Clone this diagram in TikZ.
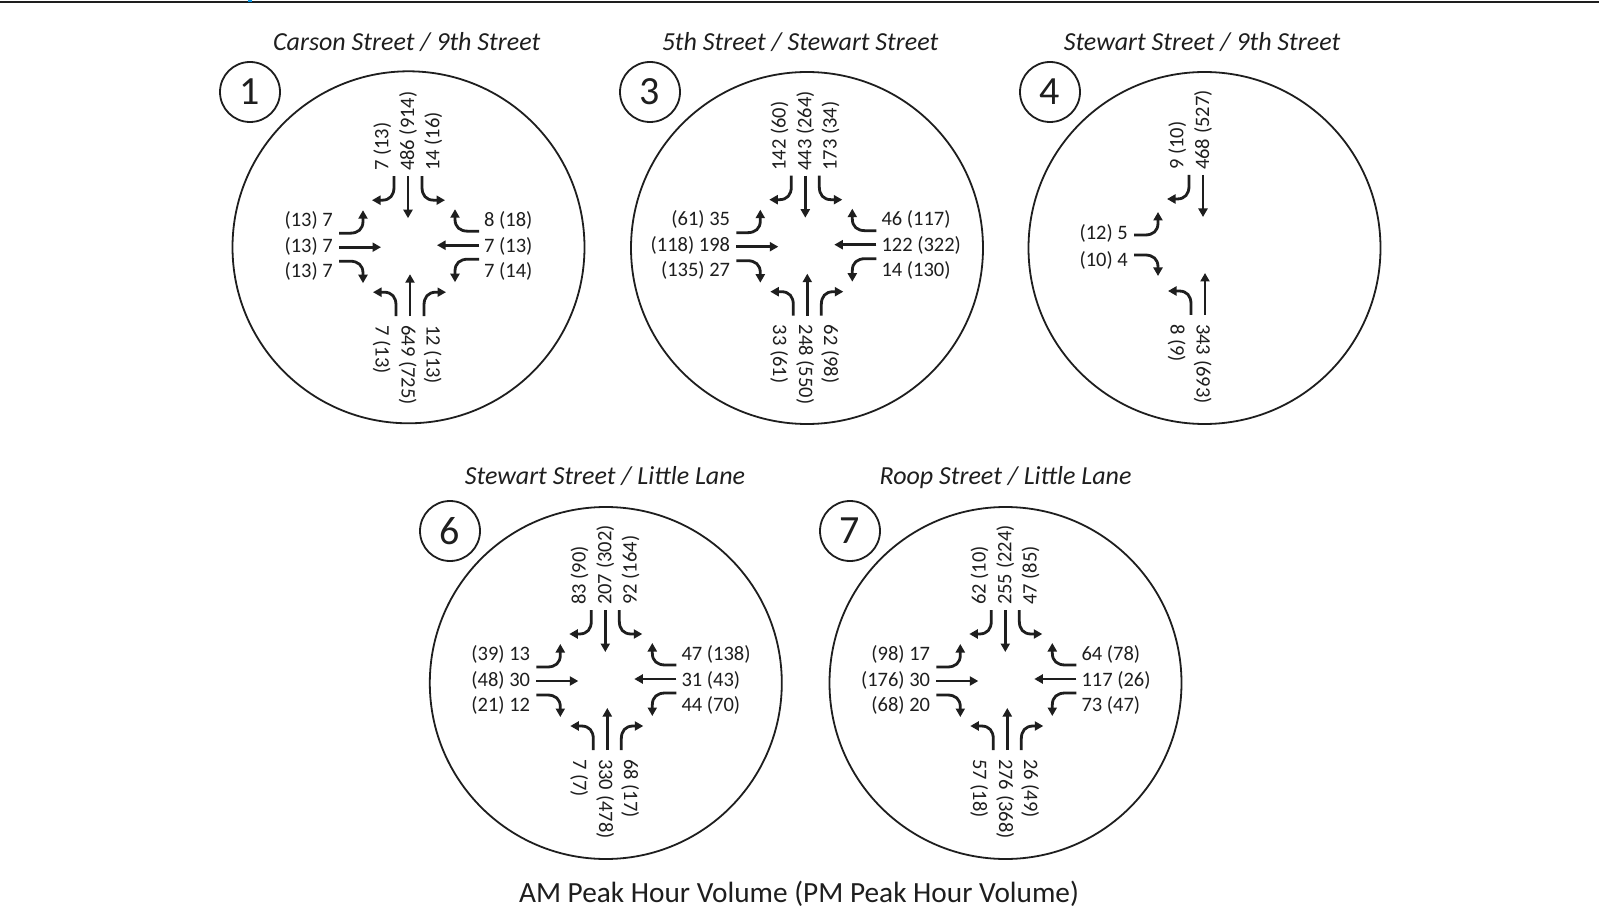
\documentclass[tikz,border=0pt]{standalone}
\usepackage{fontspec}
\setmainfont{Carlito}
\usetikzlibrary{arrows.meta}
\definecolor{ink}{RGB}{30,30,30}
\tikzset{
  arr/.style={line width=2.8pt, draw=ink, -{Triangle[length=8.5pt,width=9pt]}},
  lab/.style={font=\fontsize{20.5}{24}\selectfont, inner sep=0pt, text=ink},
  bigc/.style={circle, draw=ink, line width=1.8pt, minimum size=352pt, inner sep=0pt},
  numc/.style={circle, draw=ink, line width=1.8pt, minimum size=60pt, inner sep=0pt, font=\fontsize{40}{44}\selectfont, text=ink},
  ttl/.style={font=\fontsize{26}{30}\selectfont\itshape, inner sep=0pt, anchor=base, text=ink},
  thru/.pic={\draw[arr] (-1,-70) -- (-1,-28);},
  rturn/.pic={\draw[arr] (-15,-70) -- (-15,-59) .. controls (-15,-51) and (-19,-46) .. (-27,-46) -- (-37,-46);},
  lturn/.pic={\draw[arr] (13,-70) -- (13,-59) .. controls (13,-51) and (17,-46) .. (25,-46) -- (36,-46);},
  rturnT/.pic={\draw[arr] (-10,-70) -- (-10,-59) .. controls (-10,-51) and (-14,-46) .. (-22,-46) -- (-31,-46);},
  lturnT/.pic={\draw[arr] (10,-70) -- (10,-59) .. controls (10,-51) and (14,-46) .. (22,-46) -- (33,-46);}
}
% labels: #1 centre name, #2 #3 #4 texts (left to right / top to bottom)
\newcommand\labN[4]{\begin{scope}[shift={(#1)}]
  \node[lab,rotate=90,anchor=base west] (#1-na) at (-20.7,-75) {#2};
  \node[lab,rotate=90,anchor=base west] (#1-nb) at (5,-75) {#3};
  \node[lab,rotate=90,anchor=base west] (#1-nc) at (30.3,-75) {#4};
\end{scope}}
\newcommand\labS[4]{\begin{scope}[shift={(#1)}]
  \node[lab,rotate=-90,anchor=base west] (#1-sa) at (-33.3,79) {#2};
  \node[lab,rotate=-90,anchor=base west] (#1-sb) at (-7.3,79) {#3};
  \node[lab,rotate=-90,anchor=base west] (#1-sc) at (17.7,79) {#4};
\end{scope}}
\newcommand\labW[4]{\begin{scope}[shift={(#1)}]
  \node[lab,anchor=base east] (#1-wa) at (-76,-19.7) {#2};
  \node[lab,anchor=base east] (#1-wb) at (-76,6.3) {#3};
  \node[lab,anchor=base east] (#1-wc) at (-76,31.3) {#4};
\end{scope}}
\newcommand\labE[4]{\begin{scope}[shift={(#1)}]
  \node[lab,anchor=base west] (#1-ea) at (75,-19.7) {#2};
  \node[lab,anchor=base west] (#1-eb) at (75,6.3) {#3};
  \node[lab,anchor=base west] (#1-ec) at (75,31.3) {#4};
\end{scope}}
\newcommand\allarrows[1]{\foreach \r in {0,90,180,270}{%
  \pic[rotate=\r] at (#1) {thru};
  \pic[rotate=\r] at (#1) {rturn};
  \pic[rotate=\r] at (#1) {lturn};}}
\begin{document}
\begin{tikzpicture}[x=1pt,y=-1pt]
\useasboundingbox (0,0) rectangle (1599,909);
\fill[white] (0,0) rectangle (1599,909);
% top rule
\draw[line width=1.8pt, ink] (0,2.4) -- (1599,2.4);
\fill[cyan!80!blue] (248.3,0) rectangle (251.7,2);

% big circles
\node[bigc] (b1) at (408.5,247.3) {};
\node[bigc] (b3) at (807,248) {};
\node[bigc] (b4) at (1204.5,248) {};
\node[bigc] (b6) at (605.8,683) {};
\node[bigc] (b7) at (1005.5,683) {};
% numbers
\node[numc] (n1) at (250,92) {1};
\node[numc] (n3) at (650,92) {3};
\node[numc] (n4) at (1050,92) {4};
\node[numc] (n6) at (450,531) {6};
\node[numc] (n7) at (850,531) {7};
% titles
\node[ttl] (t1) at (406.7,51) {Carson Street / 9th Street};
\node[ttl] (t3) at (800,51) {5th Street / Stewart Street};
\node[ttl] (t4) at (1202,51) {Stewart Street / 9th Street};
\node[ttl] (t6) at (605,484) {Stewart Street / Little Lane};
\node[ttl] (t7) at (1005.6,484) {Roop Street / Little Lane};
% caption
\node[font=\fontsize{29.3}{34}\selectfont, inner sep=0pt, anchor=base, text=ink] (cap) at (799,902) {AM Peak Hour Volume (PM Peak Hour Volume)};

% intersection centres
\coordinate (C1) at (409,246.2);
\coordinate (C3) at (806.3,245.7);
\coordinate (C4) at (1204,245);
\coordinate (C6) at (606.3,680);
\coordinate (C7) at (1006.3,680);

% 1
\allarrows{C1}
\labN{C1}{7 (13)}{486 (914)}{14 (16)}
\labW{C1}{(13) 7}{(13) 7}{(13) 7}
\labE{C1}{8 (18)}{7 (13)}{7 (14)}
\labS{C1}{7 (13)}{649 (725)}{12 (13)}
% 3
\allarrows{C3}
\labN{C3}{142 (60)}{443 (264)}{173 (34)}
\labW{C3}{(61) 35}{(118) 198}{(135) 27}
\labE{C3}{46 (117)}{122 (322)}{14 (130)}
\labS{C3}{33 (61)}{248 (550)}{62 (98)}
% 4 (T intersection)
\pic at (C4) {thru};
\pic at (C4) {rturn};
\pic[rotate=90] at (C4) {lturnT};
\pic[rotate=90] at (C4) {rturnT};
\pic[rotate=180] at (C4) {thru};
\pic[rotate=180] at (C4) {lturn};
\begin{scope}[shift={(C4)}]
  \node[lab,rotate=90,anchor=base west] (C4-na) at (-20.7,-75) {9 (10)};
  \node[lab,rotate=90,anchor=base west] (C4-nb) at (5,-75) {468 (527)};
  \node[lab,anchor=base east] (C4-wa) at (-76,-5.7) {(12) 5};
  \node[lab,anchor=base east] (C4-wb) at (-76,21.3) {(10) 4};
  \node[lab,rotate=-90,anchor=base west] (C4-sa) at (-33.3,79) {8 (9)};
  \node[lab,rotate=-90,anchor=base west] (C4-sb) at (-7.3,79) {343 (693)};
\end{scope}
% 6
\allarrows{C6}
\labN{C6}{83 (90)}{207 (302)}{92 (164)}
\labW{C6}{(39) 13}{(48) 30}{(21) 12}
\labE{C6}{47 (138)}{31 (43)}{44 (70)}
\labS{C6}{7 (7)}{330 (478)}{68 (17)}
% 7
\allarrows{C7}
\labN{C7}{62 (10)}{255 (224)}{47 (85)}
\labW{C7}{(98) 17}{(176) 30}{(68) 20}
\labE{C7}{64 (78)}{117 (26)}{73 (47)}
\labS{C7}{57 (18)}{276 (368)}{26 (49)}
\end{tikzpicture}
\end{document}
